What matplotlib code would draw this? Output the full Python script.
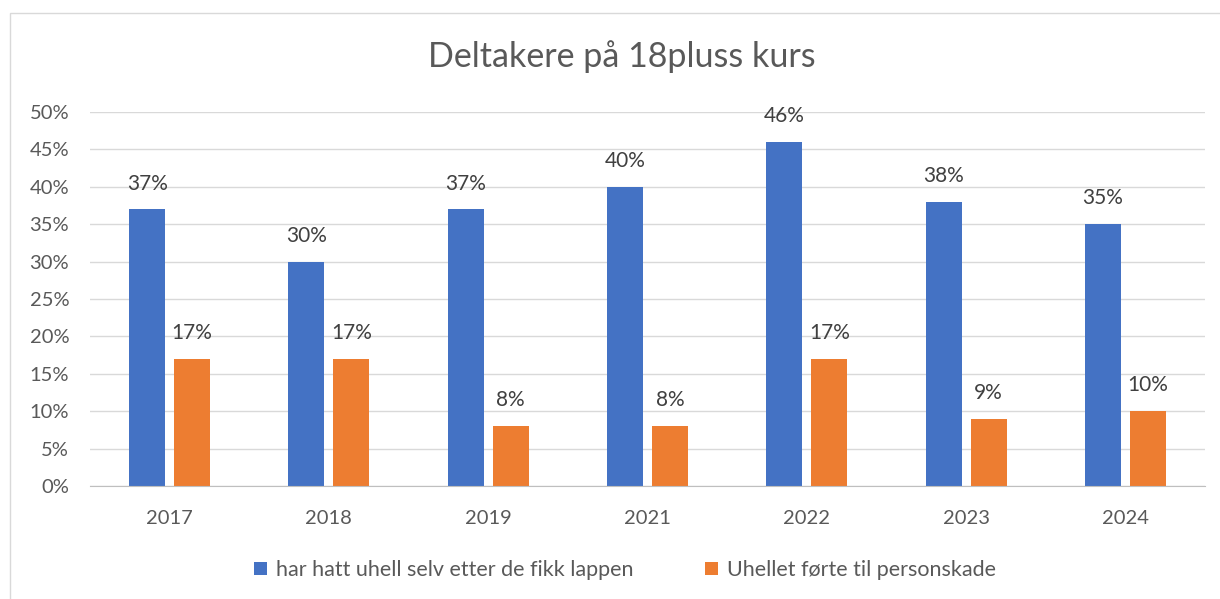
import matplotlib.pyplot as plt
import matplotlib.patches as patches
import numpy as np

years = ["2017", "2018", "2019", "2021", "2022", "2023", "2024"]
uhell = [37, 30, 37, 40, 46, 38, 35]
personskade = [17, 17, 8, 8, 17, 9, 10]
series_names = ["har hatt uhell selv etter de fikk lappen", "Uhellet førte til personskade"]

blue = "#4472C4"
orange = "#ED7D31"
text_col = "#595959"

plt.rcParams["font.family"] = ["Lato", "DejaVu Sans"]

fig = plt.figure(figsize=(12.2, 5.99), dpi=100)
# chart frame like the Excel one
fig.patches.append(patches.Rectangle((10 / 1220, -0.01), 1.0, 1 - 13 / 599 + 0.01,
                                     transform=fig.transFigure, fill=False,
                                     edgecolor="#D9D9D9", linewidth=1))

ax = fig.add_axes([90 / 1220, 1 - 486 / 599, 1115 / 1220, (486 - 112) / 599])

x = np.arange(len(years))
w = 0.226
off = 0.141
b1 = ax.bar(x - off, uhell, w, color=blue, label=series_names[0], zorder=3)
b2 = ax.bar(x + off, personskade, w, color=orange, label=series_names[1], zorder=3)

for bars, vals in ((b1, uhell), (b2, personskade)):
    for rect, v in zip(bars, vals):
        ax.text(rect.get_x() + rect.get_width() / 2, v + 2.1, f"{v}%",
                ha="center", va="bottom", fontsize=15, color="#404040")

ax.set_xlim(-0.5, len(years) - 0.5)
ax.set_ylim(0, 50)
ax.set_yticks(range(0, 51, 5))
ax.set_yticklabels([f"{t}%" for t in range(0, 51, 5)])
ax.set_xticks(x)
ax.set_xticklabels(years)
ax.tick_params(axis="both", length=0, labelsize=14.5, colors=text_col)
ax.tick_params(axis="x", pad=17)
ax.tick_params(axis="y", pad=15)
ax.yaxis.grid(True, color="#D9D9D9", linewidth=1, zorder=0)
for s in ("top", "right", "left"):
    ax.spines[s].set_visible(False)
ax.spines["bottom"].set_color("#BFBFBF")
ax.spines["bottom"].set_zorder(4)

fig.text(622 / 1220, 1 - 57 / 599, "Deltakere på 18pluss kurs", ha="center", va="center",
         fontsize=24.5, color=text_col)

fig.legend(handles=[b1, b2], loc="center", bbox_to_anchor=(625 / 1220, 1 - 570 / 599),
           ncol=2, frameon=False, fontsize=15.5, labelcolor=text_col,
           handlelength=0.6, handleheight=0.6, handletextpad=0.45, columnspacing=3.3)

fig.savefig("out.png", dpi=100)
